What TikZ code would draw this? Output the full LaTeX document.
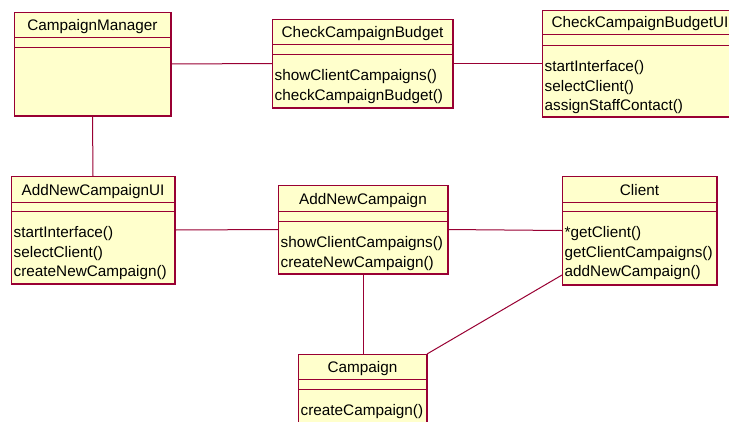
\documentclass[tikz,border=0pt]{standalone}
\usepackage{fontspec}
\setmainfont{Liberation Sans}
\definecolor{umlfill}{HTML}{FFFFCC}
\definecolor{umlline}{HTML}{990033}
\tikzset{
  classbox/.style={draw=umlline, fill=umlfill, line width=1pt, inner sep=0pt, outer sep=0pt, anchor=north west},
  sepline/.style={draw=umlline, line width=1pt},
  heavyedge/.style={draw=umlline, line width=1.6pt},
  titletext/.style={font=\fontsize{15.3}{18}\selectfont, inner sep=0pt, anchor=base},
  optext/.style={font=\fontsize{15.3}{18}\selectfont, inner sep=0pt, anchor=base west},
  assoc/.style={draw=umlline, line width=1pt},
}
% #1 name, #2 left, #3 top, #4 right, #5 bottom, #6 title rule, #7 attribute rule, #8 title
\newcommand\umlclass[8]{%
  \node[classbox, minimum width={#4-#2}, minimum height={#5-#3}] (#1) at (#2,#3) {};
  \draw[sepline] (#2,#6) -- (#4,#6) (#2,#7) -- (#4,#7);
  \draw[heavyedge] (#1.south west) -- (#1.south east) -- (#1.north east);
  \node[titletext] (#1-title) at ({(#2+#4)/2},{#6-6.5}) {#8};
}
% #1 name, #2 left, #3 attribute rule, #4 operations
\newcommand\umlops[4]{%
  \foreach \op [count=\i] in {#4}
    \node[optext] (#1-op\i) at ({#2+2.5},{#3+26.5+19.5*(\i-1)}) {\op};
}
\begin{document}
\begin{tikzpicture}[x=1pt, y=-1pt]
\clip (0,0) rectangle (729,421);
\fill[white] (0,0) rectangle (729,421);

% classes
\umlclass{cm}{14}{12}{171}{116}{37}{47}{CampaignManager}
\umlclass{ccb}{272}{19}{453}{108}{44}{54}{CheckCampaignBudget}
\umlops{ccb}{272}{54}{showClientCampaigns(),checkCampaignBudget()}
\umlclass{ccbui}{542}{10}{738}{117}{34}{45}{CheckCampaignBudgetUI}
\umlops{ccbui}{542}{45}{startInterface(),selectClient(),assignStaffContact()}
\umlclass{ancui}{11}{176}{175}{284}{202}{211}{AddNewCampaignUI}
\umlops{ancui}{11}{211}{startInterface(),selectClient(),createNewCampaign()}
\umlclass{anc}{278}{185}{448}{274}{211}{221}{AddNewCampaign}
\umlops{anc}{278}{221}{showClientCampaigns(),createNewCampaign()}
\umlclass{client}{562}{176}{717}{285}{202}{211}{Client}
\umlops{client}{562}{211}{*getClient(),getClientCampaigns(),addNewCampaign()}
\umlclass{camp}{298}{354}{427}{440}{379}{389}{Campaign}
\umlops{camp}{298}{389}{createCampaign()}

% associations
\draw[assoc] (cm.east) -- (ccb.west);
\draw[assoc] (ccb.east) -- (ccbui.west);
\draw[assoc] (cm.south) -- (ancui.north);
\draw[assoc] (ancui.east) -- (anc.west);
\draw[assoc] (anc.east) -- (client.west);
\draw[assoc] (anc.south) -- (anc.south |- camp.north);
\draw[assoc] ([yshift=10pt]client.south west) -- (camp.north east);
\end{tikzpicture}
\end{document}
